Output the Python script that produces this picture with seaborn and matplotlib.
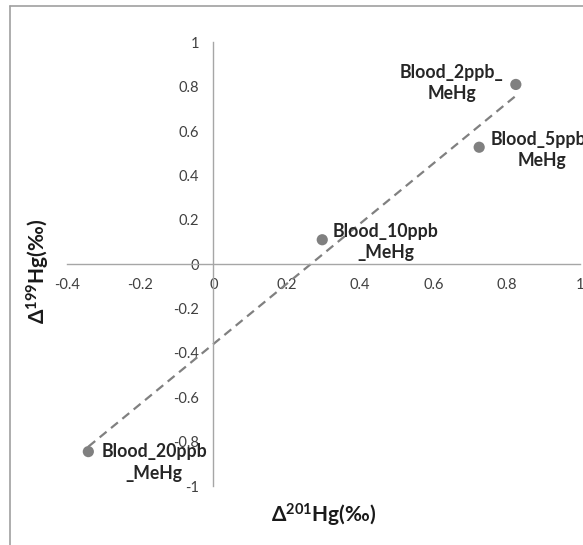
import matplotlib
matplotlib.use("Agg")
import matplotlib.pyplot as plt
from matplotlib.lines import Line2D
import seaborn as sns
import pandas as pd

# ---- data ----
samples = ["Blood_2ppb_\nMeHg", "Blood_5ppb_\nMeHg", "Blood_10ppb\n_MeHg", "Blood_20ppb\n_MeHg"]
d201 = [0.825, 0.725, 0.297, -0.341]
d199 = [0.81, 0.527, 0.11, -0.845]
xticks = [-0.4, -0.2, 0, 0.2, 0.4, 0.6, 0.8, 1]
yticks = [-1, -0.8, -0.6, -0.4, -0.2, 0, 0.2, 0.4, 0.6, 0.8, 1]

df = pd.DataFrame({"d201": d201, "d199": d199, "sample": samples})

sns.set_theme(style="white")
plt.rcParams["font.family"] = ["Lato", "DejaVu Sans"]
plt.rcParams["mathtext.fontset"] = "custom"
plt.rcParams["mathtext.rm"] = "Lato"
plt.rcParams["mathtext.bf"] = "Lato:bold"

fig = plt.figure(figsize=(5.83, 5.45), dpi=100)
ax = fig.add_axes([66.7 / 583, 59 / 545, 513.3 / 583, 443.7 / 545])

grey = "#808080"
axis_c = "#a6a6a6"

sns.regplot(data=df, x="d201", y="d199", scatter=False, ci=None, ax=ax,
            line_kws={"color": grey, "lw": 1.6, "ls": (0, (4, 2.6))})
sns.scatterplot(data=df, x="d201", y="d199", ax=ax, color=grey, s=65,
                edgecolor="none", zorder=5)

ax.set_xlim(-0.4, 1)
ax.set_ylim(-1, 1)
ax.set_xticks(xticks)
ax.set_yticks(yticks)
ax.set_xticklabels(["-0.4", "-0.2", "0", "0.2", "0.4", "0.6", "0.8", "1"])
ax.set_yticklabels(["-1", "-0.8", "-0.6", "-0.4", "-0.2", "0", "0.2", "0.4", "0.6", "0.8", "1"])
ax.set_xlabel("")
ax.set_ylabel("")

for s in ["top", "right"]:
    ax.spines[s].set_visible(False)
ax.spines["left"].set_position(("data", 0))
ax.spines["bottom"].set_position(("data", 0))
for s in ["left", "bottom"]:
    ax.spines[s].set_color(axis_c)
    ax.spines[s].set_linewidth(1.0)
ax.tick_params(axis="both", which="major", direction="out", length=4, width=1.0,
               color=axis_c, labelcolor="#404040", labelsize=10.5)
ax.tick_params(axis="y", pad=6)
ax.tick_params(axis="x", pad=6)
ax.set_facecolor("none")
for lab in ax.get_xticklabels() + ax.get_yticklabels():
    lab.set_clip_on(False)

offsets = [(-46, 1), (45.4, -1.8), (45.9, -1.8), (47.4, -7.8)]
for (x, y, t), off in zip(zip(d201, d199, samples), offsets):
    ax.annotate(t, (x, y), xytext=off, textcoords="offset points",
                ha="center", va="center", multialignment="center",
                fontsize=12.7, fontweight="bold", color="#262626",
                linespacing=1.3, annotation_clip=False, zorder=6)

fig.text(324 / 583, 1 - 515 / 545, r"$\mathbf{\Delta^{201}}$Hg(‰)",
         ha="center", va="center", fontsize=15, fontweight="bold", color="#1a1a1a")
fig.text(38 / 583, 1 - 271 / 545, r"$\mathbf{\Delta^{199}}$Hg(‰)",
         ha="center", va="center", rotation=90, fontsize=15, fontweight="bold",
         color="#1a1a1a")

# chart frame
fx0 = 10 / 583
fy0 = 1 - 6 / 545
fig.add_artist(Line2D([fx0, fx0], [fy0, 0], transform=fig.transFigure, color="#a0a0a0", lw=1.2))
fig.add_artist(Line2D([fx0, 1], [fy0, fy0], transform=fig.transFigure, color="#a0a0a0", lw=1.2))

fig.savefig("out.png", dpi=100)
